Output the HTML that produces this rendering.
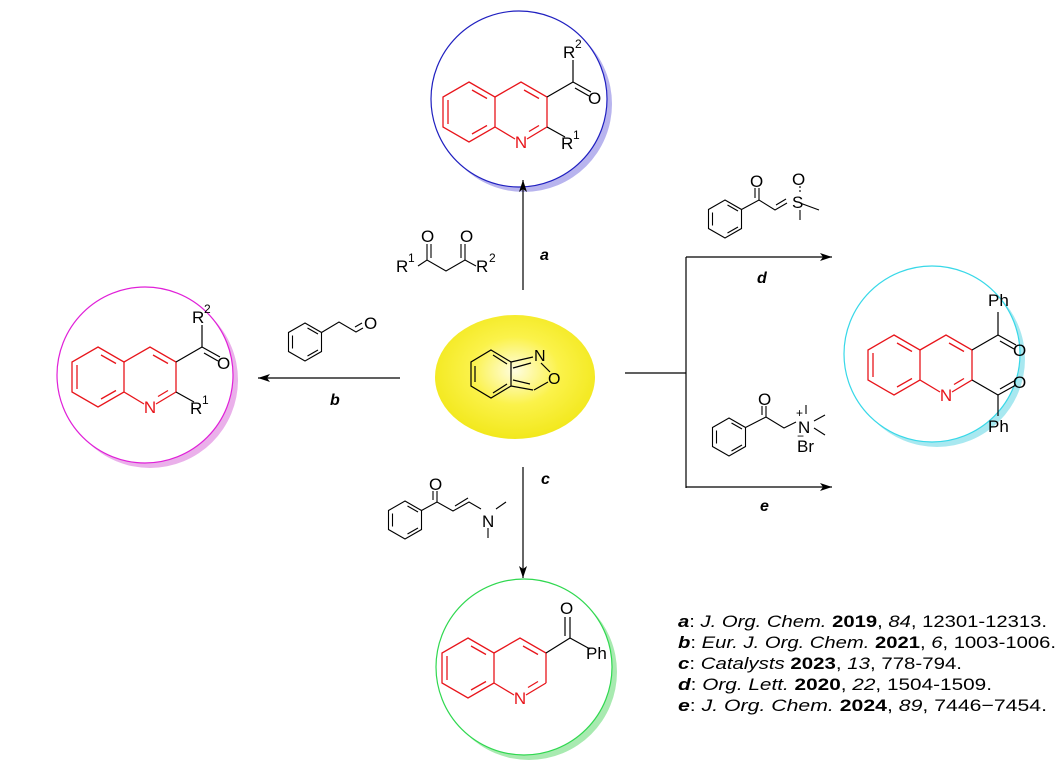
<!DOCTYPE html>
<html><head><meta charset="utf-8"><style>
html,body{margin:0;padding:0;background:#fff;}
svg{display:block;}
text{font-family:"Liberation Sans",sans-serif;}
</style></head><body>
<svg width="1060" height="776" viewBox="0 0 1060 776" xmlns="http://www.w3.org/2000/svg">
<defs>
<g id="q" stroke="#e8151b" stroke-width="1.3" fill="none">
<polygon points="0,-30 26,-15 26,15 0,30 -26,15 -26,-15"/>
<polyline points="26,-15 52,-30 78,-15 78,15"/>
<polyline points="26,15 46,27"/>
<polyline points="58,27 78,15"/>
<line x1="3" y1="-22" x2="18" y2="-13.5"/><line x1="18" y1="13.5" x2="3" y2="22"/><line x1="-21" y1="12" x2="-21" y2="-12"/>
<line x1="55" y1="-22" x2="70" y2="-13.5"/><line x1="70" y1="13.5" x2="60" y2="19.5"/>
<text x="52" y="36" font-size="17" fill="#e8151b" stroke="none" text-anchor="middle">N</text>
</g>
<g id="bz" stroke="#000" stroke-width="1.1" fill="none">
<polygon points="0,-19 16.5,-9.5 16.5,9.5 0,19 -16.5,9.5 -16.5,-9.5"/>
<line x1="2.5" y1="-14" x2="13" y2="-8"/><line x1="13" y1="8" x2="2.5" y2="14"/><line x1="-12.5" y1="6.5" x2="-12.5" y2="-6.5"/>
</g>
<radialGradient id="yg" cx="50%" cy="45%" r="55%"><stop offset="0" stop-color="#fffde0"/><stop offset="0.5" stop-color="#fbf24a"/><stop offset="1" stop-color="#f2e81c"/></radialGradient>
<marker id="ah" markerWidth="12" markerHeight="8" refX="12" refY="4" orient="auto" markerUnits="userSpaceOnUse"><path d="M0,0 L12,4 L0,8 L3,4z" fill="#000"/></marker>
</defs>

<!-- circles -->
<circle cx="524" cy="104" r="88" fill="#b8b4ee"/><circle cx="519" cy="99" r="88" fill="#fff" stroke="#2020c0" stroke-width="1.2"/>
<circle cx="150" cy="380" r="88" fill="#eab0ea"/><circle cx="145" cy="375" r="88" fill="#fff" stroke="#e020d8" stroke-width="1.2"/>
<circle cx="937" cy="359" r="88" fill="#a8e8f0"/><circle cx="932" cy="354" r="88" fill="#fff" stroke="#38d8e8" stroke-width="1.2"/>
<circle cx="529" cy="672" r="88" fill="#a8eab0"/><circle cx="524" cy="667" r="88" fill="#fff" stroke="#30d850" stroke-width="1.2"/>
<ellipse cx="515" cy="377" rx="80" ry="62" fill="url(#yg)"/>

<!-- quinolines -->
<use href="#q" transform="translate(469,112)"/>
<use href="#q" transform="translate(98,377)"/>
<use href="#q" transform="translate(894,365)"/>
<use href="#q" transform="translate(468,668)"/>

<g stroke="#000" stroke-width="1.2" fill="none">
<line x1="547" y1="97" x2="573" y2="82"/><line x1="573" y1="82" x2="573" y2="60"/>
<line x1="573" y1="82" x2="591" y2="92"/><line x1="575" y1="88" x2="589" y2="96"/>
<line x1="547" y1="127" x2="565" y2="137"/>
<line x1="176" y1="362" x2="202" y2="347"/><line x1="202" y1="347" x2="202" y2="325"/>
<line x1="202" y1="347" x2="220" y2="357"/><line x1="204" y1="353" x2="218" y2="361"/>
<line x1="176" y1="392" x2="194" y2="402"/>
<line x1="972" y1="350" x2="998" y2="335"/><line x1="998" y1="335" x2="998" y2="312"/>
<line x1="998" y1="335" x2="1016" y2="345"/><line x1="1000" y1="341" x2="1014" y2="349"/>
<line x1="972" y1="380" x2="998" y2="395"/><line x1="998" y1="395" x2="998" y2="416"/>
<line x1="998" y1="395" x2="1016" y2="385"/><line x1="1000" y1="389" x2="1014" y2="381"/>
<line x1="546" y1="653" x2="570" y2="638"/><line x1="570" y1="638" x2="590" y2="649"/>
<line x1="570" y1="638" x2="570" y2="617"/><line x1="565" y1="636" x2="565" y2="617"/>
</g>
<g font-size="17" fill="#000">
<text x="563" y="58">R</text><text x="575" y="48" font-size="12">2</text>
<text x="588" y="104">O</text>
<text x="561" y="149">R</text><text x="573" y="139" font-size="12">1</text>
<text x="192" y="323">R</text><text x="204" y="313" font-size="12">2</text>
<text x="217" y="369">O</text>
<text x="190" y="414">R</text><text x="202" y="404" font-size="12">1</text>
<text x="988" y="306">Ph</text><text x="1013" y="356">O</text>
<text x="1013" y="388">O</text><text x="988" y="432">Ph</text>
<text x="560" y="614">O</text><text x="586" y="659">Ph</text>
</g>

<!-- benzisoxazole -->
<g stroke="#000" stroke-width="1.2" fill="none">
<polygon points="491,350 511,362 511,386 491,398 471,386 471,362"/>
<line x1="475" y1="366" x2="475" y2="382"/><line x1="493" y1="355" x2="507" y2="364"/><line x1="493" y1="393" x2="507" y2="384"/>
<line x1="511" y1="362" x2="533" y2="357"/><line x1="513" y1="368" x2="531" y2="363"/>
<line x1="511" y1="386" x2="533" y2="390"/><line x1="513" y1="380" x2="530" y2="384"/>
<line x1="541" y1="363" x2="550" y2="372"/><line x1="534" y1="390" x2="548" y2="382"/>
</g>
<text x="534" y="361" font-size="16">N</text><text x="548" y="384" font-size="16">O</text>

<!-- arrows -->
<g stroke="#000" stroke-width="1.2" fill="none">
<line x1="523" y1="290" x2="523" y2="180" marker-end="url(#ah)"/>
<line x1="400" y1="378" x2="258" y2="378" marker-end="url(#ah)"/>
<line x1="523" y1="467" x2="523" y2="578" marker-end="url(#ah)"/>
<line x1="625" y1="373" x2="686" y2="373"/>
<line x1="686" y1="257" x2="686" y2="488"/>
<line x1="686" y1="257" x2="832" y2="257" marker-end="url(#ah)"/>
<line x1="686" y1="487" x2="832" y2="487" marker-end="url(#ah)"/>
</g>
<g font-size="16" font-weight="bold" font-style="italic">
<text x="540" y="260">a</text><text x="330" y="405">b</text><text x="541" y="484">c</text>
<text x="757" y="283">d</text><text x="760" y="511">e</text>
</g>

<!-- reagent a -->
<g stroke="#000" stroke-width="1.1" fill="none">
<polyline points="418,266 427,260 446,271 465,260 476,266"/>
<line x1="427" y1="260" x2="427" y2="244"/><line x1="431" y1="258" x2="431" y2="244"/>
<line x1="465" y1="260" x2="465" y2="244"/><line x1="461" y1="258" x2="461" y2="244"/>
</g>
<g font-size="17"><text x="396" y="272">R</text><text x="408" y="262" font-size="12">1</text>
<text x="421" y="242">O</text><text x="460" y="242">O</text>
<text x="476" y="272">R</text><text x="489" y="262" font-size="12">2</text></g>

<!-- reagent b -->
<use href="#bz" transform="translate(305,342)"/>
<g stroke="#000" stroke-width="1.1" fill="none">
<polyline points="321.5,332.5 339,322 356,332 363,328"/><line x1="355" y1="327" x2="362" y2="323"/>
</g>
<text x="364" y="329" font-size="17">O</text>

<!-- reagent c -->
<use href="#bz" transform="translate(405,520)"/>
<g stroke="#000" stroke-width="1.1" fill="none">
<polyline points="421.5,510.5 437,502 453,511 469,502 481,509"/>
<line x1="437" y1="502" x2="437" y2="491"/><line x1="433" y1="500" x2="433" y2="491"/>
<line x1="455" y1="506" x2="468" y2="498"/>
<line x1="496" y1="509" x2="506" y2="502"/><line x1="488" y1="528" x2="488" y2="538"/>
</g>
<text x="429" y="490" font-size="17">O</text><text x="482" y="527" font-size="17">N</text>

<!-- reagent d -->
<use href="#bz" transform="translate(725,219)"/>
<g stroke="#000" stroke-width="1.1" fill="none">
<polyline points="741.5,209.5 759,200 775,210 787,203"/>
<line x1="759" y1="200" x2="759" y2="188"/><line x1="755" y1="198" x2="755" y2="188"/>
<line x1="776" y1="205" x2="786" y2="199"/>
<line x1="800" y1="203" x2="819" y2="210"/><line x1="800" y1="210" x2="800" y2="220"/>
<line x1="800" y1="186" x2="800" y2="192" stroke-dasharray="2,2"/>
</g>
<text x="750" y="187" font-size="17">O</text><text x="792" y="185" font-size="17">O</text><text x="792" y="208" font-size="17">S</text>

<!-- reagent e -->
<use href="#bz" transform="translate(729,437)"/>
<g stroke="#000" stroke-width="1.1" fill="none">
<polyline points="745.5,427.5 766,417 784,428 796,422"/>
<line x1="766" y1="417" x2="766" y2="406"/><line x1="762" y1="415" x2="762" y2="406"/>
<line x1="806" y1="405" x2="806" y2="414"/><line x1="814" y1="421" x2="825" y2="415"/><line x1="814" y1="428" x2="825" y2="435"/>
</g>
<text x="758" y="405" font-size="17">O</text><text x="798" y="433" font-size="17">N</text>
<text x="796" y="417" font-size="12">+</text>
<text x="797" y="452" font-size="17">Br</text><text x="797" y="440" font-size="12">−</text>

<!-- references -->
<g font-size="17">
<text x="678" y="627" textLength="369" lengthAdjust="spacingAndGlyphs"><tspan font-weight="bold" font-style="italic">a</tspan>: <tspan font-style="italic">J. Org. Chem.</tspan> <tspan font-weight="bold">2019</tspan>, <tspan font-style="italic">84</tspan>, 12301-12313.</text>
<text x="678" y="648" textLength="378" lengthAdjust="spacingAndGlyphs"><tspan font-weight="bold" font-style="italic">b</tspan>: <tspan font-style="italic">Eur. J. Org. Chem.</tspan> <tspan font-weight="bold">2021</tspan>, <tspan font-style="italic">6</tspan>, 1003-1006.</text>
<text x="678" y="669" textLength="284" lengthAdjust="spacingAndGlyphs"><tspan font-weight="bold" font-style="italic">c</tspan>: <tspan font-style="italic">Catalysts</tspan> <tspan font-weight="bold">2023</tspan>, <tspan font-style="italic">13</tspan>, 778-794.</text>
<text x="678" y="690" textLength="314" lengthAdjust="spacingAndGlyphs"><tspan font-weight="bold" font-style="italic">d</tspan>: <tspan font-style="italic">Org. Lett.</tspan> <tspan font-weight="bold">2020</tspan>, <tspan font-style="italic">22</tspan>, 1504-1509.</text>
<text x="678" y="711" textLength="369" lengthAdjust="spacingAndGlyphs"><tspan font-weight="bold" font-style="italic">e</tspan>:  <tspan font-style="italic">J. Org. Chem.</tspan> <tspan font-weight="bold">2024</tspan>, <tspan font-style="italic">89</tspan>, 7446−7454.</text>
</g>
</svg>
</body></html>
